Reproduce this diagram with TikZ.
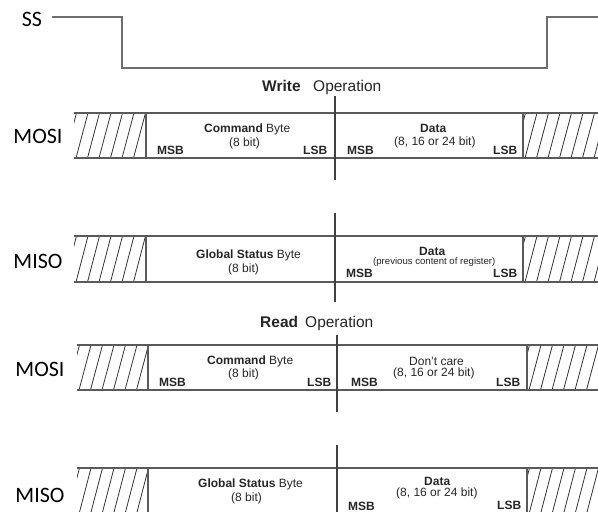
\documentclass[tikz,border=0pt]{standalone}
\usepackage{fontspec}
\setmainfont{Liberation Sans}
\newfontfamily\calib{Carlito}
\definecolor{linegray}{HTML}{5A5A5A}
\definecolor{ssgray}{HTML}{6E6E6E}
\definecolor{txt}{HTML}{262626}
\newcommand\hatchbox[5]{% x1 y1 x2 y2 first-bottom-x
  \begin{scope}
    \clip (#1,#2) rectangle (#3,#4);
    \foreach \k in {-2,...,8}
      \draw[hatchline] ({#5+\k*11.5},#4) -- ({#5+\k*11.5+12},#2);
  \end{scope}}
\begin{document}
\begin{tikzpicture}[x=1pt,y=-1pt,
  hatchline/.style={draw=black!80, line width=0.8pt},
  boxline/.style={draw=linegray, line width=1.4pt},
  divline/.style={draw=black!75, line width=1.2pt},
  ssline/.style={draw=ssgray, line width=1.6pt},
  sig/.style={font=\calib\fontsize{22}{24}\selectfont, text=black, anchor=base, inner sep=0pt},
  head/.style={font=\fontsize{15.5}{18}\selectfont, text=txt, anchor=base west, inner sep=0pt},
  lbl/.style={font=\fontsize{12}{14}\selectfont, text=txt, anchor=base west, inner sep=0pt},
  tiny/.style={font=\fontsize{9.6}{11}\selectfont, text=txt, anchor=base west, inner sep=0pt}]
\useasboundingbox (0,0) rectangle (598,512);

% ---------- SS ----------
\node[sig] (ss) at (32,26) {SS};
\coordinate (ss0) at (52,17);
\coordinate (ss1) at (122,17);
\coordinate (ss2) at (122,68);
\coordinate (ss3) at (547,68);
\coordinate (ss4) at (547,17);
\coordinate (ss5) at (599,17);
\draw[ssline] (ss0) -- (ss1) -- (ss2) -- (ss3) -- (ss4) -- (ss5);

% ---------- Write operation ----------
\node[head] (wr) at (262,91) {\textbf{Write}};
\node[head] (wrop) at (313,91) {Operation};

% Row 1: MOSI (write)
\node[sig] (mosi1) at (38,143) {MOSI};
\hatchbox{74}{113}{146}{158}{76}
\hatchbox{523}{113}{599}{158}{525}
\draw[boxline] (74,113) -- (599,113);
\draw[boxline] (74,158) -- (599,158);
\draw[boxline] (146,113) -- (146,158);
\draw[boxline] (523,113) -- (523,158);
\coordinate (d1t) at (335,96); \coordinate (d1b) at (335,180);
\draw[divline] (d1t) -- (d1b);
\node[lbl] (cb1) at (204,132) {\textbf{Command} Byte};
\node[lbl] (b1) at (229,146) {(8 bit)};
\node[lbl] (msb1) at (157,154) {\textbf{MSB}};
\node[lbl] (lsb1) at (303,154) {\textbf{LSB}};
\node[lbl] (msb1b) at (347,154) {\textbf{MSB}};
\node[lbl] (data1) at (420,132) {\textbf{Data}};
\node[lbl] (n1) at (394,145) {(8, 16 or 24 bit)};
\node[lbl] (lsb1b) at (493,154) {\textbf{LSB}};

% Row 2: MISO (write)
\node[sig] (miso1) at (38,268) {MISO};
\hatchbox{74}{236}{146}{282}{76}
\hatchbox{523}{236}{599}{282}{525}
\draw[boxline] (74,236) -- (599,236);
\draw[boxline] (74,282) -- (599,282);
\draw[boxline] (146,236) -- (146,282);
\draw[boxline] (523,236) -- (523,282);
\coordinate (d2t) at (335,213); \coordinate (d2b) at (335,302);
\draw[divline] (d2t) -- (d2b);
\node[lbl] (gs2) at (196,258) {\textbf{Global Status} Byte};
\node[lbl] (b2) at (228,272) {(8 bit)};
\node[lbl] (data2) at (419,255) {\textbf{Data}};
\node[tiny] (prev2) at (373,264) {(previous content of register)};
\node[lbl] (msb2) at (346,277) {\textbf{MSB}};
\node[lbl] (lsb2) at (493,277) {\textbf{LSB}};

% ---------- Read operation ----------
\node[head] (rd) at (260,327) {\textbf{Read}};
\node[head] (rdop) at (305,327) {Operation};

% Row 3: MOSI (read)
\node[sig] (mosi2) at (40,376) {MOSI};
\hatchbox{77}{345}{148}{390}{79}
\hatchbox{527}{345}{599}{390}{529}
\draw[boxline] (77,345) -- (599,345);
\draw[boxline] (77,390) -- (599,390);
\draw[boxline] (148,345) -- (148,390);
\draw[boxline] (527,345) -- (527,390);
\coordinate (d3t) at (337,335); \coordinate (d3b) at (337,412);
\draw[divline] (d3t) -- (d3b);
\node[lbl] (cb3) at (207,364) {\textbf{Command} Byte};
\node[lbl] (b3) at (228,377) {(8 bit)};
\node[lbl] (msb3) at (159,386) {\textbf{MSB}};
\node[lbl] (lsb3) at (307,386) {\textbf{LSB}};
\node[lbl] (msb3b) at (351,386) {\textbf{MSB}};
\node[lbl] (dc3) at (409,365) {Don't care};
\node[lbl] (n3) at (393,376) {(8, 16 or 24 bit)};
\node[lbl] (lsb3b) at (496,386) {\textbf{LSB}};

% Row 4: MISO (read)
\node[sig] (miso2) at (40,502) {MISO};
\hatchbox{77}{468}{148}{514}{79}
\hatchbox{527}{468}{599}{514}{529}
\draw[boxline] (77,468) -- (599,468);
\draw[boxline] (77,514) -- (599,514);
\draw[boxline] (148,468) -- (148,514);
\draw[boxline] (527,468) -- (527,514);
\coordinate (d4t) at (337,445); \coordinate (d4b) at (337,520);
\draw[divline] (d4t) -- (d4b);
\node[lbl] (gs4) at (198,487) {\textbf{Global Status} Byte};
\node[lbl] (b4) at (231,501) {(8 bit)};
\node[lbl] (data4) at (424,485) {\textbf{Data}};
\node[lbl] (n4) at (396,496) {(8, 16 or 24 bit)};
\node[lbl] (msb4) at (348,510) {\textbf{MSB}};
\node[lbl] (lsb4) at (497,509) {\textbf{LSB}};
\end{tikzpicture}
\end{document}
